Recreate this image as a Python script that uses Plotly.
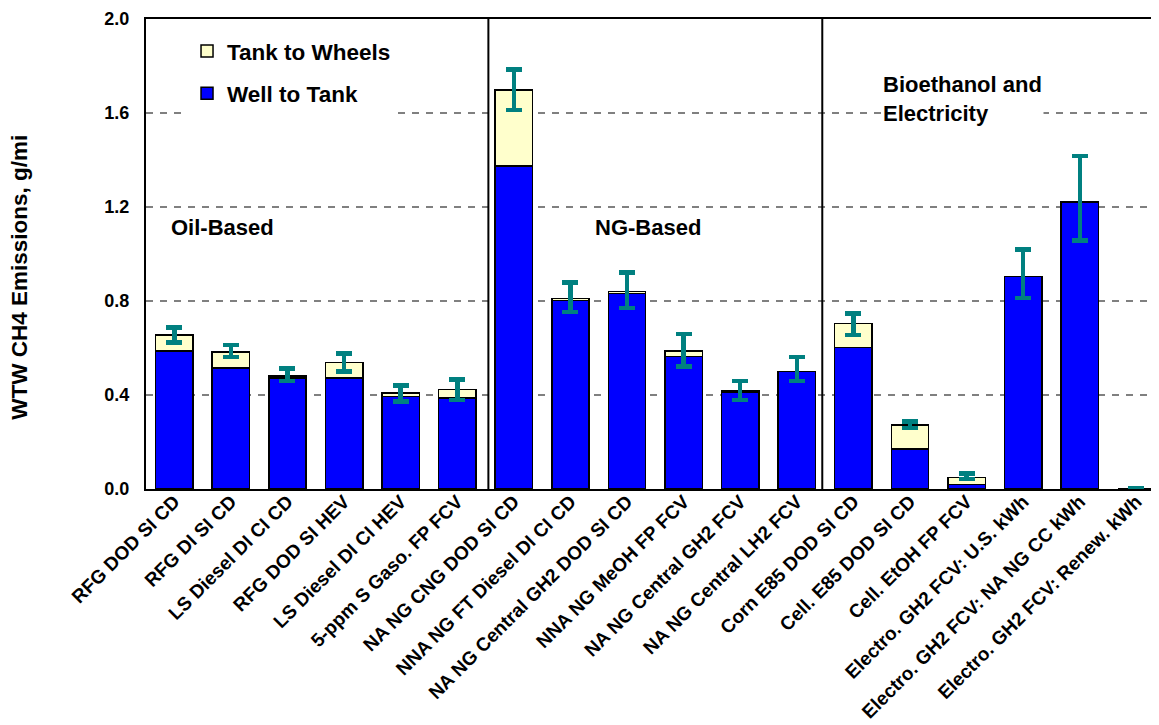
import plotly.graph_objects as go

categories = [
    "RFG DOD SI CD", "RFG DI SI CD", "LS Diesel DI CI CD", "RFG DOD SI HEV",
    "LS Diesel DI CI HEV", "5-ppm S Gaso. FP FCV", "NA NG CNG DOD SI CD",
    "NNA NG FT Diesel DI CI CD", "NA NG Central GH2 DOD SI CD", "NNA NG MeOH FP FCV",
    "NA NG Central GH2 FCV", "NA NG Central LH2 FCV", "Corn E85 DOD SI CD",
    "Cell. E85 DOD SI CD", "Cell. EtOH FP FCV", "Electro. GH2 FCV: U.S. kWh",
    "Electro. GH2 FCV: NA NG CC kWh", "Electro. GH2 FCV: Renew. kWh",
]
well_to_tank = [0.588, 0.515, 0.473, 0.473, 0.394, 0.387, 1.374, 0.803, 0.832,
                0.563, 0.413, 0.501, 0.602, 0.170, 0.020, 0.905, 1.222, 0.0]
tank_to_wheels = [0.068, 0.067, 0.007, 0.066, 0.014, 0.037, 0.324, 0.008, 0.009,
                  0.025, 0.003, 0.0, 0.103, 0.102, 0.029, 0.0, 0.0, 0.0]
err_plus = [0.032, 0.031, 0.032, 0.038, 0.033, 0.043, 0.087, 0.068, 0.081,
            0.072, 0.043, 0.060, 0.042, 0.016, 0.017, 0.115, 0.194, 0.003]
err_minus = [0.033, 0.021, 0.020, 0.038, 0.036, 0.045, 0.085, 0.057, 0.070,
             0.066, 0.037, 0.042, 0.049, 0.012, 0.007, 0.092, 0.165, 0.0]
y_ticks = [0.0, 0.4, 0.8, 1.2, 1.6, 2.0]

FONT = "Arial, 'Liberation Sans', sans-serif"
x_idx = list(range(len(categories)))

fig = go.Figure()
fig.add_trace(go.Bar(
    x=x_idx, y=well_to_tank, name="Well to Tank", legendgroup="wtt", legendrank=2,
    marker=dict(color="#0000FF", line=dict(color="black", width=1.5)),
    width=0.66,
))
fig.add_trace(go.Bar(
    x=x_idx, y=tank_to_wheels, name="Tank to Wheels", legendgroup="ttw", legendrank=1,
    marker=dict(color="#FFFFCC", line=dict(color="black", width=1.5)),
    width=0.66,
    error_y=dict(type="data", symmetric=False, array=err_plus, arrayminus=err_minus,
                 color="#008080", thickness=4.5, width=8),
))

# group separators
for xs in [5.55, 11.45]:
    fig.add_shape(type="line", x0=xs, x1=xs, y0=0, y1=2.0, xref="x", yref="y",
                  line=dict(color="black", width=2), layer="above")

ann_font = dict(family=FONT, size=22, color="black")
fig.add_annotation(x=-0.1, y=1.112, xref="x", yref="y", text="<b>Oil-Based</b>",
                   showarrow=False, xanchor="left", yanchor="middle", font=ann_font)
fig.add_annotation(x=7.39, y=1.112, xref="x", yref="y", text="<b>NG-Based</b>",
                   showarrow=False, xanchor="left", yanchor="middle", font=ann_font)
fig.add_annotation(x=12.48, y=1.659, xref="x", yref="y",
                   text="<b>Bioethanol and<br>Electricity</b>", align="left",
                   showarrow=False, xanchor="left", yanchor="middle", font=ann_font,
                   bgcolor="white")
fig.add_annotation(x=-0.1244, y=0.4516, xref="paper", yref="paper",
                   text="<b>WTW CH4 Emissions, g/mi</b>", textangle=-90,
                   showarrow=False, xanchor="center", yanchor="middle",
                   font=dict(family=FONT, size=22.5, color="black"))

fig.update_layout(
    width=1151, height=717,
    margin=dict(l=138, r=0, t=11, b=236),
    paper_bgcolor="white", plot_bgcolor="white",
    barmode="stack",
    font=dict(family=FONT, color="black"),
    showlegend=True,
    legend=dict(x=0.0405, y=0.977, xanchor="left", yanchor="top",
                traceorder="grouped", tracegroupgap=10,
                bgcolor="white", borderwidth=0,
                font=dict(family=FONT, size=22.5, color="black", weight="bold")),
    xaxis=dict(
        range=[-0.5, 17.4], tickmode="array", tickvals=x_idx, ticktext=categories,
        tickangle=-45, tickfont=dict(family=FONT, size=19, color="black", weight="bold"),
        showgrid=False, showline=True, linecolor="black", linewidth=2, mirror=True,
        ticks="", zeroline=False, ticklabelstandoff=-8, automargin=False,
        ticklabeloverflow="allow",
    ),
    yaxis=dict(
        range=[0, 2.0], tickmode="array", tickvals=y_ticks,
        ticktext=[f"{v:.1f}" for v in y_ticks],
        tickfont=dict(family=FONT, size=18, color="black", weight="bold"),
        showgrid=True, gridcolor="#808080", gridwidth=1.5, griddash="7px,7px",
        showline=True, linecolor="black", linewidth=2, ticks="",
        ticklabelstandoff=11, zeroline=False, automargin=False,
        ticklabeloverflow="allow",
    ),
)

fig.write_html("out.html")
